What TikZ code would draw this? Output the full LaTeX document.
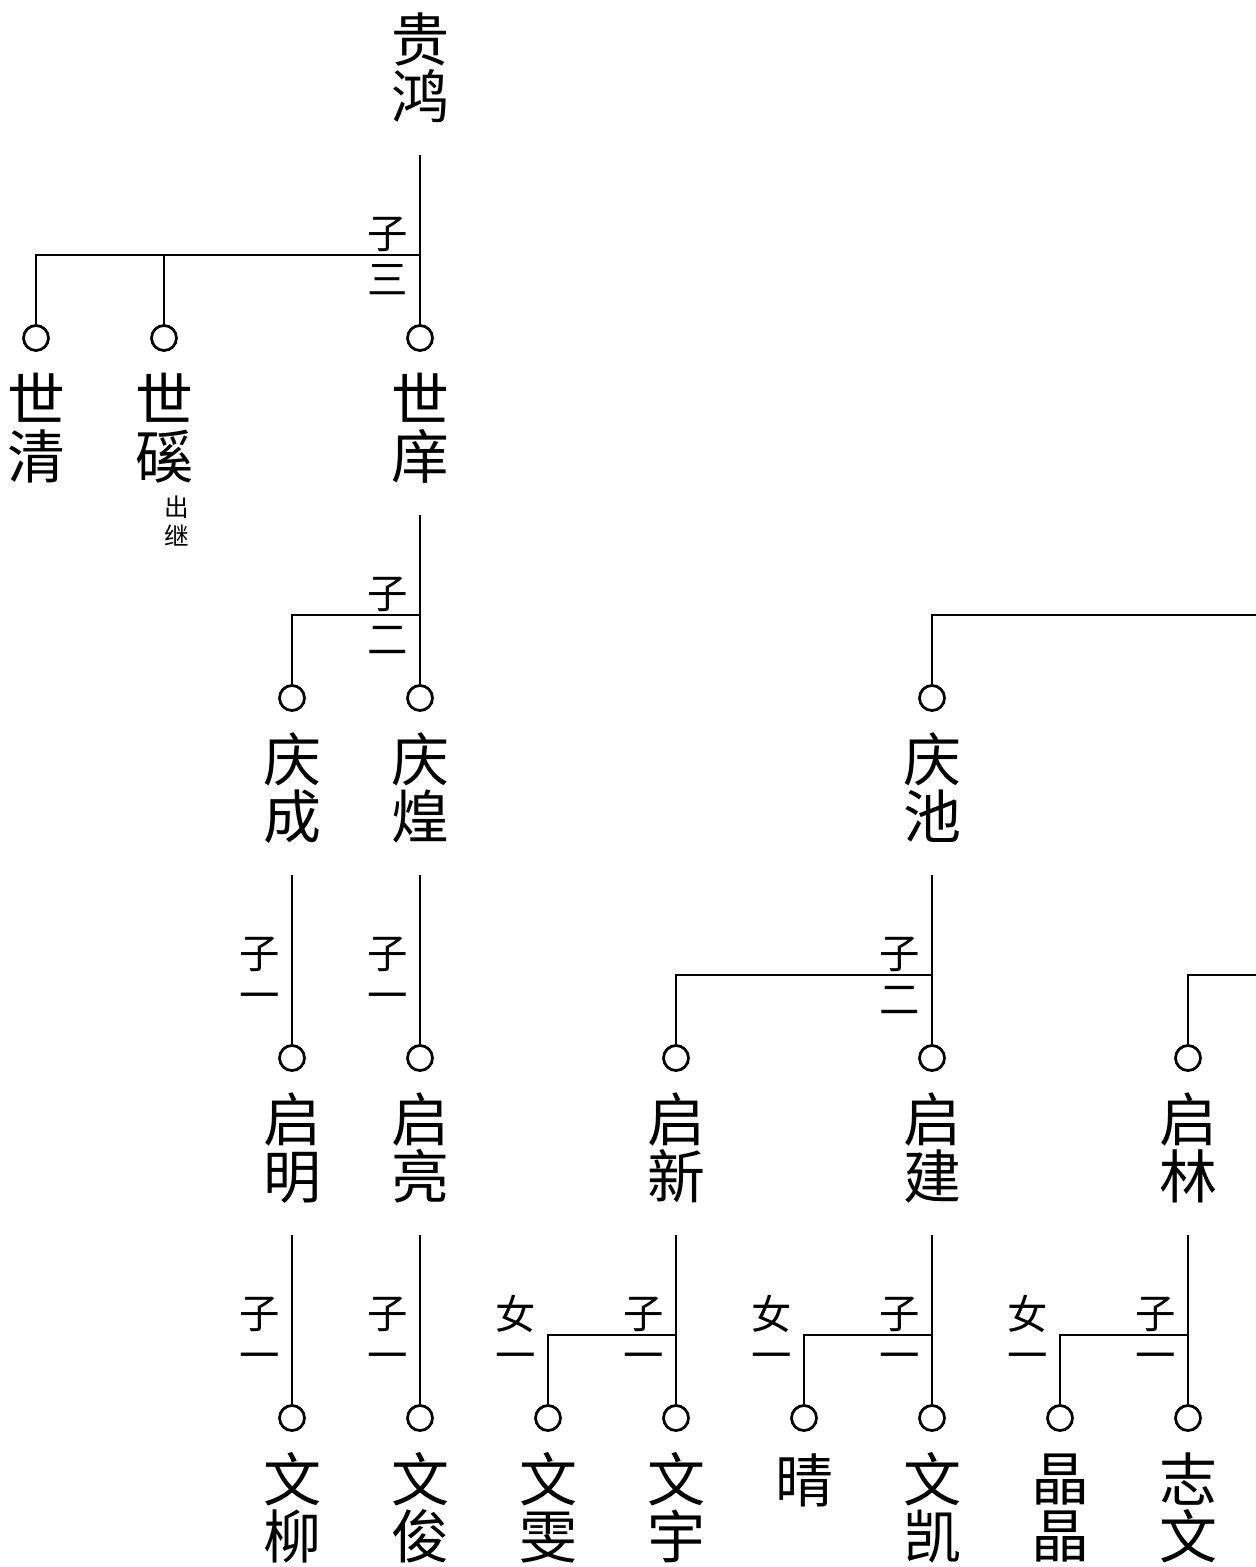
\documentclass[tikz,border=0pt]{standalone}
\usepackage{fontspec}
\newfontfamily\cjk{Noto Sans CJK SC}
\begin{document}
\begin{tikzpicture}[x=0.02cm,y=-0.02cm,
    line/.style={line width=0.055cm},
    ring/.style={circle,draw,line width=0.055cm,minimum size=0.5cm,inner sep=0pt},
    person/.style={font=\cjk\fontsize{33}{32.4}\selectfont,align=center,inner sep=0pt},
    tag/.style={font=\cjk\fontsize{23}{23}\selectfont,inner sep=0pt},
    remark/.style={font=\cjk\fontsize{14}{16.5}\selectfont,align=center,inner sep=0pt}]
                            \useasboundingbox (0,0) rectangle (1256,1567);
                            {
                            % Marking point guihong
                            \node [person] (n-guihong) at (420,68) {贵\\鸿};%

                            % Marking rings, generation shi
                            \node [ring] (c-shiqing) at (36,338) {};%
                            \node [ring] (c-shixi) at (164,338) {};%
                            \node [ring] (c-shixiang) at (420,338) {};%
                            \node [person] (n-shiqing) at (36,428) {世\\清};%
                            \node [person] (n-shixi) at (164,428) {世\\磎};%
                            \node [person] (n-shixiang) at (420,428) {世\\庠};%
                            \node [remark] (r-shixi) at (177,521) {出\\继};%

                            % Marking rings, generation qing
                            \node [ring] (c-qingcheng) at (292,698) {};%
                            \node [ring] (c-qinghuang) at (420,698) {};%
                            \node [ring] (c-qingchi) at (932,698) {};%
                            \node [person] (n-qingcheng) at (292,788) {庆\\成};%
                            \node [person] (n-qinghuang) at (420,788) {庆\\煌};%
                            \node [person] (n-qingchi) at (932,788) {庆\\池};%

                            % Marking rings, generation qi
                            \node [ring] (c-qiming) at (292,1058) {};%
                            \node [ring] (c-qiliang) at (420,1058) {};%
                            \node [ring] (c-qixin) at (676,1058) {};%
                            \node [ring] (c-qijian) at (932,1058) {};%
                            \node [ring] (c-qilin) at (1188,1058) {};%
                            \node [person] (n-qiming) at (292,1148) {启\\明};%
                            \node [person] (n-qiliang) at (420,1148) {启\\亮};%
                            \node [person] (n-qixin) at (676,1148) {启\\新};%
                            \node [person] (n-qijian) at (932,1148) {启\\建};%
                            \node [person] (n-qilin) at (1188,1148) {启\\林};%

                            % Marking rings, generation wen
                            \node [ring] (c-wenliu) at (292,1418) {};%
                            \node [ring] (c-wenjun) at (420,1418) {};%
                            \node [ring] (c-wenwen) at (548,1418) {};%
                            \node [ring] (c-wenyu) at (676,1418) {};%
                            \node [ring] (c-qing) at (804,1418) {};%
                            \node [ring] (c-wenkai) at (932,1418) {};%
                            \node [ring] (c-jingjing) at (1060,1418) {};%
                            \node [ring] (c-zhiwen) at (1188,1418) {};%
                            \node [person] (n-wenliu) at (292,1508) {文\\柳};%
                            \node [person] (n-wenjun) at (420,1508) {文\\俊};%
                            \node [person] (n-wenwen) at (548,1508) {文\\雯};%
                            \node [person] (n-wenyu) at (676,1508) {文\\宇};%
                            \node [person] (n-qing) at (804,1480) {晴};%
                            \node [person] (n-wenkai) at (932,1508) {文\\凯};%
                            \node [person] (n-jingjing) at (1060,1508) {晶\\晶};%
                            \node [person] (n-zhiwen) at (1188,1508) {志\\文};%

                            % Junctions and loose ends
                            \coordinate (j-guihong) at (420,255);%
                            \coordinate (j-shixiang) at (420,615);%
                            \coordinate (j-qingchi) at (932,975);%
                            \coordinate (j-qixin) at (676,1335);%
                            \coordinate (j-qijian) at (932,1335);%
                            \coordinate (j-qilin) at (1188,1335);%
                            \coordinate (o-qingchi) at (1256,615);%
                            \coordinate (o-qilin) at (1256,975);%

                            % Drawing line guihong
                            \draw [line] ([yshift=-1.74cm]n-guihong.center) -- (c-shixiang.north);%
                            \draw [line] (c-shiqing.north) |- (j-guihong);%
                            \draw [line] (c-shixi.north) |- (j-guihong);%

                            % Drawing line shixiang
                            \draw [line] ([yshift=-1.74cm]n-shixiang.center) -- (c-qinghuang.north);%
                            \draw [line] (c-qingcheng.north) |- (j-shixiang);%

                            % Drawing line to qingchi
                            \draw [line] (c-qingchi.north) |- (o-qingchi);%

                            % Drawing lines qingcheng, qinghuang
                            \draw [line] ([yshift=-1.74cm]n-qingcheng.center) -- (c-qiming.north);%
                            \draw [line] ([yshift=-1.74cm]n-qinghuang.center) -- (c-qiliang.north);%

                            % Drawing line qingchi
                            \draw [line] ([yshift=-1.74cm]n-qingchi.center) -- (c-qijian.north);%
                            \draw [line] (c-qixin.north) |- (j-qingchi);%

                            % Drawing line to qilin
                            \draw [line] (c-qilin.north) |- (o-qilin);%

                            % Drawing lines qiming, qiliang
                            \draw [line] ([yshift=-1.74cm]n-qiming.center) -- (c-wenliu.north);%
                            \draw [line] ([yshift=-1.74cm]n-qiliang.center) -- (c-wenjun.north);%

                            % Drawing line qixin
                            \draw [line] ([yshift=-1.74cm]n-qixin.center) -- (c-wenyu.north);%
                            \draw [line] (c-wenwen.north) |- (j-qixin);%

                            % Drawing line qijian
                            \draw [line] ([yshift=-1.74cm]n-qijian.center) -- (c-wenkai.north);%
                            \draw [line] (c-qing.north) |- (j-qijian);%

                            % Drawing line qilin
                            \draw [line] ([yshift=-1.74cm]n-qilin.center) -- (c-zhiwen.north);%
                            \draw [line] (c-jingjing.north) |- (j-qilin);%

                            % Marking counts
                            \node [tag] (t-guihong-a) at (388,234) {子};%
                            \node [tag] (t-guihong-b) at (388,280) {三};%
                            \node [tag] (t-shixiang-a) at (388,594) {子};%
                            \node [tag] (t-shixiang-b) at (388,640) {二};%
                            \node [tag] (t-qingcheng-a) at (260,954) {子};%
                            \node [tag] (t-qingcheng-b) at (260,1002) {一};%
                            \node [tag] (t-qinghuang-a) at (388,954) {子};%
                            \node [tag] (t-qinghuang-b) at (388,1002) {一};%
                            \node [tag] (t-qingchi-a) at (900,954) {子};%
                            \node [tag] (t-qingchi-b) at (900,1000) {二};%
                            \node [tag] (t-qiming-a) at (260,1314) {子};%
                            \node [tag] (t-qiming-b) at (260,1362) {一};%
                            \node [tag] (t-qiliang-a) at (388,1314) {子};%
                            \node [tag] (t-qiliang-b) at (388,1362) {一};%
                            \node [tag] (t-qixin-a) at (516,1314) {女};%
                            \node [tag] (t-qixin-b) at (516,1362) {一};%
                            \node [tag] (t-qixin-c) at (644,1314) {子};%
                            \node [tag] (t-qixin-d) at (644,1362) {一};%
                            \node [tag] (t-qijian-a) at (772,1314) {女};%
                            \node [tag] (t-qijian-b) at (772,1362) {一};%
                            \node [tag] (t-qijian-c) at (900,1314) {子};%
                            \node [tag] (t-qijian-d) at (900,1362) {一};%
                            \node [tag] (t-qilin-a) at (1028,1314) {女};%
                            \node [tag] (t-qilin-b) at (1028,1362) {一};%
                            \node [tag] (t-qilin-c) at (1156,1314) {子};%
                            \node [tag] (t-qilin-d) at (1156,1362) {一};%
                            }
                        \end{tikzpicture}
\end{document}
